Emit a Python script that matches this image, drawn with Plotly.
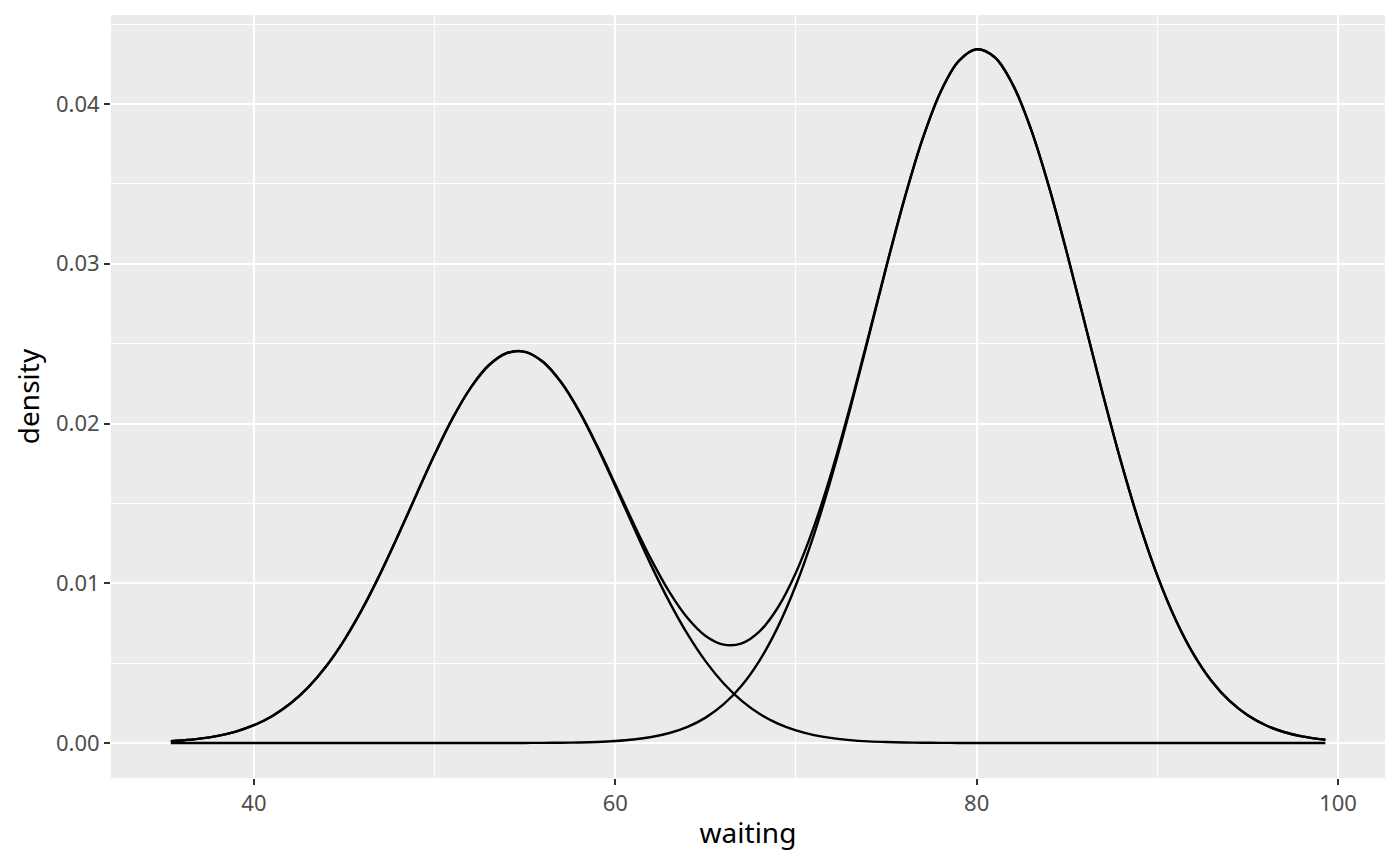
import plotly.graph_objects as go

# values (one point per unit of waiting time)
waiting = [35.4, 36, 37, 38, 39, 40, 41, 42, 43, 44, 45, 46, 47, 48, 49, 50, 51, 52,
           53, 54, 55, 56, 57, 58, 59, 60, 61, 62, 63, 64, 65, 66, 67, 68, 69, 70,
           71, 72, 73, 74, 75, 76, 77, 78, 79, 80, 81, 82, 83, 84, 85, 86, 87, 88,
           89, 90, 91, 92, 93, 94, 95, 96, 97, 98, 99, 99.3]

comp_short = [0.000117, 0.000162, 0.000274, 0.000451, 0.000719, 0.001114, 0.001678,
              0.002454, 0.003485, 0.004808, 0.006446, 0.008393, 0.010617, 0.013046,
              0.015571, 0.018054, 0.020334, 0.022248, 0.023646, 0.024412, 0.024483,
              0.023852, 0.022573, 0.020752, 0.018531, 0.016076, 0.013547, 0.011089,
              0.008818, 0.006811, 0.005111, 0.003726, 0.002638, 0.001814, 0.001212,
              0.000787, 0.000496, 0.000304, 0.000181, 0.000104, 0.000059, 0.000032,
              0.000017, 0.000009, 0.000004,
              0, 0, 0, 0, 0, 0, 0, 0, 0, 0, 0, 0, 0, 0, 0, 0, 0, 0, 0, 0, 0]

comp_long = [0, 0, 0, 0, 0, 0, 0, 0, 0, 0, 0, 0, 0, 0, 0, 0, 0, 0, 0, 0,
             0.000005, 0.00001, 0.000019, 0.000036, 0.000068, 0.000124, 0.000218,
             0.000375, 0.000625, 0.001011, 0.001590, 0.002429, 0.003603, 0.005193,
             0.007271, 0.009888, 0.013065, 0.016767, 0.020904, 0.025315, 0.029781,
             0.034034, 0.037779, 0.040739, 0.042674, 0.043424, 0.042923, 0.041215,
             0.038443, 0.034832, 0.030658, 0.026213, 0.021770, 0.017565, 0.013766,
             0.010480, 0.007751, 0.005568, 0.003886, 0.002634, 0.001735, 0.001110,
             0.000690, 0.000416, 0.000244, 0.000207]

mixture = [0.000117, 0.000162, 0.000274, 0.000451, 0.000719, 0.001114, 0.001678,
           0.002454, 0.003485, 0.004808, 0.006446, 0.008393, 0.010617, 0.013046,
           0.015571, 0.018054, 0.020334, 0.022248, 0.023646, 0.024412, 0.024488,
           0.023862, 0.022592, 0.020788, 0.018599, 0.016200, 0.013765, 0.011464,
           0.009443, 0.007822, 0.006701, 0.006155, 0.006241, 0.007007, 0.008483,
           0.010675, 0.013561, 0.017071, 0.021085, 0.025419, 0.029840, 0.034066,
           0.037796, 0.040748, 0.042678, 0.043424, 0.042923, 0.041215, 0.038443,
           0.034832, 0.030658, 0.026213, 0.021770, 0.017565, 0.013766, 0.010480,
           0.007751, 0.005568, 0.003886, 0.002634, 0.001735, 0.001110, 0.000690,
           0.000416, 0.000244, 0.000207]

x_ticks = [40, 60, 80, 100]
y_ticks = [0.00, 0.01, 0.02, 0.03, 0.04]
y_labels = ["0.00", "0.01", "0.02", "0.03", "0.04"]

fig = go.Figure()

for ys in [comp_short, comp_long, mixture]:
    fig.add_trace(go.Scatter(
        x=waiting, y=ys, mode="lines",
        line=dict(color="black", width=2.4, shape="spline", smoothing=1.0),
        showlegend=False, hoverinfo="skip"
    ))

# the page body adds 8px, so margins are shifted to land the panel where it should
fig.update_layout(
    width=1400, height=866,
    margin=dict(l=103, r=23, t=7, b=96),
    paper_bgcolor="white",
    plot_bgcolor="#EBEBEB",
    font=dict(family="Noto Sans", color="#4D4D4D", size=22),
)

fig.update_xaxes(
    range=[32.09, 102.6],
    tickvals=x_ticks,
    ticks="outside", ticklen=6, tickwidth=2, tickcolor="#333333",
    showgrid=True, gridcolor="white", gridwidth=2.2,
    minor=dict(dtick=10, tick0=30, showgrid=True, gridcolor="white", gridwidth=1.1),
    zeroline=False, showline=False,
    title=dict(text="waiting", font=dict(color="black", size=28), standoff=6),
)

fig.update_yaxes(
    range=[-0.00219, 0.04557],
    tickvals=y_ticks, ticktext=y_labels,
    ticks="outside", ticklen=6, tickwidth=2, tickcolor="#333333",
    showgrid=True, gridcolor="white", gridwidth=2.2,
    minor=dict(dtick=0.005, tick0=0.005, showgrid=True, gridcolor="white", gridwidth=1.1),
    zeroline=False, showline=False,
    title=dict(text="density", font=dict(color="black", size=28), standoff=8),
)

fig.write_html("out.html")
